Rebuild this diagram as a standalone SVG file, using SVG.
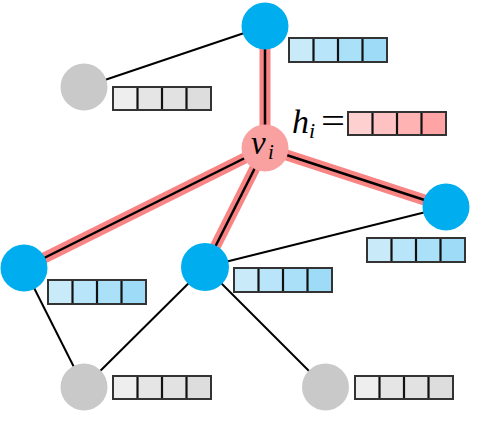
<svg xmlns="http://www.w3.org/2000/svg" width="500" height="446" viewBox="0 0 500 446">
<style>
.edge{stroke:#000;stroke-width:2;fill:none}
.hl{stroke:#F88484;stroke-width:11;fill:none}
.hlc{stroke:#000;stroke-width:2.5;fill:none}
.blue{fill:#00AEEF}
.gray{fill:#C9C9C9}
.pink{fill:#F9A0A0}
.frame{fill:none;stroke:#333;stroke-width:2}
.div{stroke:#111;stroke-width:2.2}
.math{font-family:"Liberation Serif","DejaVu Serif",serif;font-style:italic;fill:#000}
.eq{font-family:"Liberation Serif","DejaVu Serif",serif;fill:#000}
</style>
<defs>
<g id="vecb">
<rect x="0" y="0" width="24.5" height="24" fill="#C8EAF9"/>
<rect x="24.5" y="0" width="24.5" height="24" fill="#B8E5F9"/>
<rect x="49" y="0" width="24.5" height="24" fill="#AAE0F8"/>
<rect x="73.5" y="0" width="24.5" height="24" fill="#9DDBF6"/>
<line class="div" x1="24.5" y1="0" x2="24.5" y2="24"/>
<line class="div" x1="49" y1="0" x2="49" y2="24"/>
<line class="div" x1="73.5" y1="0" x2="73.5" y2="24"/>
<rect class="frame" x="0" y="0" width="98" height="24"/>
</g>
<g id="vecg">
<rect x="0" y="0" width="24.5" height="23" fill="#EEEEEE"/>
<rect x="24.5" y="0" width="24.5" height="23" fill="#E5E5E5"/>
<rect x="49" y="0" width="24.5" height="23" fill="#E2E2E2"/>
<rect x="73.5" y="0" width="24.5" height="23" fill="#DDDDDD"/>
<line class="div" x1="24.5" y1="0" x2="24.5" y2="23"/>
<line class="div" x1="49" y1="0" x2="49" y2="23"/>
<line class="div" x1="73.5" y1="0" x2="73.5" y2="23"/>
<rect class="frame" x="0" y="0" width="98" height="23"/>
</g>
<g id="vecp">
<rect x="0" y="0" width="24.5" height="23" fill="#FFD0D0"/>
<rect x="24.5" y="0" width="24.5" height="23" fill="#FFC2C2"/>
<rect x="49" y="0" width="24.5" height="23" fill="#FFB3B3"/>
<rect x="73.5" y="0" width="24.5" height="23" fill="#FFA4A4"/>
<line class="div" x1="24.5" y1="0" x2="24.5" y2="23"/>
<line class="div" x1="49" y1="0" x2="49" y2="23"/>
<line class="div" x1="73.5" y1="0" x2="73.5" y2="23"/>
<rect class="frame" x="0" y="0" width="98" height="23"/>
</g>
</defs>
<rect width="500" height="446" fill="#fff"/>
<g id="connectors">
<line class="edge" x1="84" y1="87" x2="265" y2="26"/>
<line class="edge" x1="205" y1="267" x2="446" y2="207"/>
<line class="edge" x1="24" y1="268" x2="84" y2="387"/>
<line class="edge" x1="205" y1="267" x2="84" y2="387"/>
<line class="edge" x1="205" y1="267" x2="325" y2="387"/>
<line class="hl" x1="265" y1="26" x2="265" y2="148"/>
<line class="hl" x1="265" y1="148" x2="446" y2="207"/>
<line class="hl" x1="265" y1="148" x2="24" y2="268"/>
<line class="hl" x1="265" y1="148" x2="205" y2="267"/>
<line class="hlc" x1="265" y1="26" x2="265" y2="148"/>
<line class="hlc" x1="265" y1="148" x2="446" y2="207"/>
<line class="hlc" x1="265" y1="148" x2="24" y2="268"/>
<line class="hlc" x1="265" y1="148" x2="205" y2="267"/>
</g>
<g id="node-top">
<circle class="blue" cx="265" cy="26" r="23.5"/>
<use href="#vecb" x="289" y="38"/>
</g>
<g id="node-topleft">
<circle class="gray" cx="84" cy="87" r="23.5"/>
<use href="#vecg" x="113" y="87"/>
</g>
<g id="node-vi">
<circle class="pink" cx="265" cy="148" r="23.5"/>
<text class="math" x="251" y="154" font-size="33">v</text>
<text class="math" x="268" y="159" font-size="21">i</text>
<text class="math" x="292" y="133" font-size="34">h</text>
<text class="math" x="309" y="138" font-size="22">i</text>
<text class="eq" x="321" y="133" font-size="36" textLength="24" lengthAdjust="spacingAndGlyphs">=</text>
<use href="#vecp" x="348" y="112"/>
</g>
<g id="node-right">
<circle class="blue" cx="446" cy="207" r="23.5"/>
<use href="#vecb" x="367" y="238"/>
</g>
<g id="node-left">
<circle class="blue" cx="24" cy="268" r="23.5"/>
<use href="#vecb" x="48" y="280"/>
</g>
<g id="node-mid">
<circle class="blue" cx="205" cy="267" r="24"/>
<use href="#vecb" x="234" y="268"/>
</g>
<g id="node-bottomleft">
<circle class="gray" cx="84" cy="387" r="23.5"/>
<use href="#vecg" x="113" y="376"/>
</g>
<g id="node-bottomright">
<circle class="gray" cx="325.5" cy="387" r="23.5"/>
<use href="#vecg" x="355" y="376"/>
</g>
</svg>
